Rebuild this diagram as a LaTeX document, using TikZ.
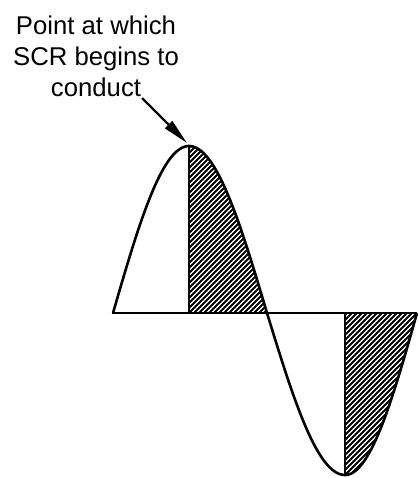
\documentclass[tikz,border=0pt]{standalone}
\usepackage{fontspec}
\setmainfont{Liberation Sans}
\usetikzlibrary{arrows.meta}
\tikzset{
  wave/.style={line width=2.6bp, line join=round},
  hatchline/.style={line width=1.9bp},
  labeltext/.style={font=\fontsize{25.8}{31}\selectfont, align=center, inner sep=0pt},
  pointer/.style={line width=2.2bp, -{Triangle[length=26bp,width=10bp]}}
}
\begin{document}
\begin{tikzpicture}[x=1bp,y=-1bp]
\useasboundingbox (0,0) rectangle (417,478);
\coordinate (start) at (113,313);
\coordinate (peak) at (189,146);
\coordinate (peakbase) at (189,313);
\coordinate (zero) at (267,313);
\coordinate (trough) at (345,475);
\coordinate (troughbase) at (345,313);
\coordinate (axisL) at (112,313);
\coordinate (axisR) at (417,313);
% hatched regions
\begin{scope}
\clip (peakbase) -- (peak) -- plot[domain=0:90,samples=50] ({189+78*\x/90},{313-167*cos(\x)}) -- cycle;
\foreach \k in {0,...,52} \draw[hatchline] ({19+5*\k},313) -- ++(200,-200);
\end{scope}
\begin{scope}
\clip (troughbase) -- (trough) -- plot[domain=0:90,samples=50] ({345+72*\x/90},{313+162*cos(\x)}) -- cycle;
\foreach \k in {0,...,52} \draw[hatchline] ({180+5*\k},475) -- ++(200,-200);
\end{scope}
% axis and verticals
\draw[wave] (axisL) -- (axisR);
\draw[wave] (peak) -- (peakbase);
\draw[wave] (troughbase) -- (trough);
% waveform
\draw[wave] plot[domain=0:90,samples=50] ({113+76*\x/90},{313-167*sin(\x)})
  -- plot[domain=0:90,samples=50] ({189+78*\x/90},{313-167*cos(\x)})
  -- plot[domain=0:90,samples=50] ({267+78*\x/90},{313+162*sin(\x)})
  -- plot[domain=0:90,samples=50] ({345+72*\x/90},{313+162*cos(\x)});
% label
\node[labeltext] (lbl) at (96,56) {Point at which\\SCR begins to\\conduct};
\coordinate (tail) at (142,98);
\coordinate (tip) at (187,143);
\draw[pointer] (tail) -- (tip);
\end{tikzpicture}
\end{document}
